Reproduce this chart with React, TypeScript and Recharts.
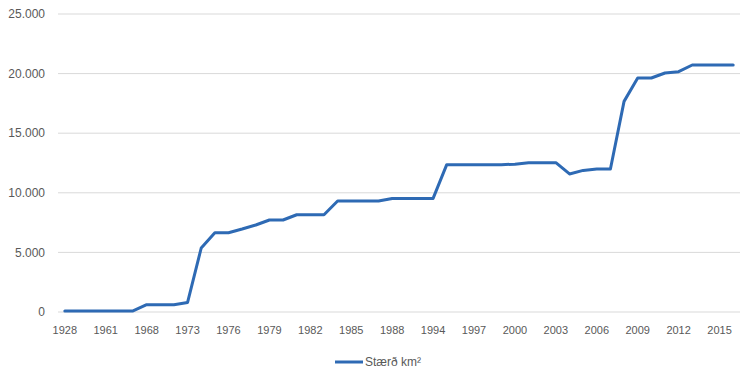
import { LineChart, Line, XAxis, YAxis, CartesianGrid, Legend } from 'recharts';

// years shown on the category axis (every third one gets a label)
const years = [
  '1928', '1940', '1956', '1961', '1964', '1967', '1968', '1970', '1972', '1973',
  '1974', '1975', '1976', '1977', '1978', '1979', '1980', '1981', '1982', '1983',
  '1984', '1985', '1986', '1987', '1988', '1990', '1992', '1994', '1995', '1996',
  '1997', '1998', '1999', '2000', '2001', '2002', '2003', '2004', '2005', '2006',
  '2007', '2008', '2009', '2010', '2011', '2012', '2013', '2014', '2015', '2016',
];

// Stærð km²
const areas = [
  90, 90, 90, 90, 90, 90, 610, 610, 610, 800,
  5370, 6650, 6650, 6960, 7300, 7720, 7720, 8160, 8160, 8160,
  9310, 9310, 9310, 9310, 9530, 9530, 9530, 9530, 12360, 12360,
  12360, 12360, 12360, 12400, 12530, 12530, 12530, 11580, 11880, 12000,
  12000, 17670, 19630, 19630, 20050, 20160, 20720, 20720, 20720, 20720,
];

const yTicks = [0, 5000, 10000, 15000, 20000, 25000];

const data = years.map((year, i) => ({ year, area: areas[i] }));

const FONT = '"Liberation Sans", Arial, sans-serif';
const TEXT = '#595959';
const BLUE = '#2E6AB4';

const fmt = (v: number) => String(v).replace(/\B(?=(\d{3})+(?!\d))/g, '.');

const LegendBox = () => (
  <div style={{ display: 'flex', justifyContent: 'center', alignItems: 'center', height: 20, fontFamily: FONT, fontSize: 12, color: TEXT }}>
    <svg width={28} height={4} style={{ display: 'block' }}>
      <line x1={0} y1={2} x2={28} y2={2} stroke={BLUE} strokeWidth={3} />
    </svg>
    <span style={{ marginLeft: 2 }}>Stærð km²</span>
  </div>
);

export default function App() {
  return (
    <div style={{ position: 'absolute', left: 0, top: 0, background: '#fff' }}>
      <LineChart width={756} height={378} data={data} margin={{ top: 14, right: 16, left: 0, bottom: 6 }}>
        <CartesianGrid vertical={false} stroke="#d9d9d9" />
        <XAxis
          dataKey="year"
          interval={2}
          tickLine={false}
          axisLine={false}
          tickSize={0}
          tickMargin={14}
          height={40}
          padding={{ left: 6.82, right: 6.82 }}
          tick={{ fill: TEXT, fontSize: 11, fontFamily: FONT }}
        />
        <YAxis
          domain={[0, 25000]}
          ticks={yTicks}
          tickFormatter={fmt}
          tickLine={false}
          axisLine={false}
          tickSize={0}
          tickMargin={13}
          width={58}
          tick={{ fill: TEXT, fontSize: 12, fontFamily: FONT }}
        />
        <Legend verticalAlign="bottom" content={LegendBox} wrapperStyle={{ left: 0, width: 756 }} />
        <Line
          type="linear"
          dataKey="area"
          name="Stærð km²"
          stroke={BLUE}
          strokeWidth={3}
          strokeLinejoin="round"
          strokeLinecap="round"
          dot={false}
          isAnimationActive={false}
        />
      </LineChart>
    </div>
  );
}
